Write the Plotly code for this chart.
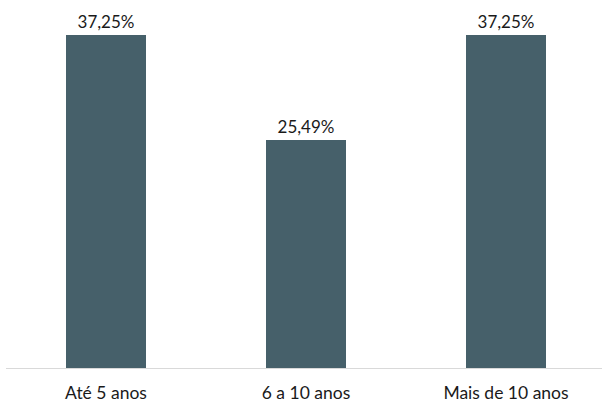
import plotly.graph_objects as go

# Distribuição por tempo de atuação
categorias = ["Até 5 anos", "6 a 10 anos", "Mais de 10 anos"]
percentuais = [37.25, 25.49, 37.25]
rotulos = ["37,25%", "25,49%", "37,25%"]

cor_barra = "#46606a"
fonte = "Lato, Liberation Sans, Arial, sans-serif"

fig = go.Figure(
    go.Bar(
        x=categorias,
        y=percentuais,
        text=rotulos,
        textposition="outside",
        cliponaxis=False,
        marker=dict(color=cor_barra, line=dict(width=0)),
        width=0.4,
        textfont=dict(family=fonte, size=17, color="#1a1a1a"),
    )
)

fig.update_layout(
    width=602,
    height=405,
    margin=dict(l=6, r=0, t=0, b=37),
    paper_bgcolor="white",
    plot_bgcolor="white",
    showlegend=False,
    font=dict(family=fonte, size=17, color="#1a1a1a"),
)

fig.update_xaxes(
    range=[-0.5, -0.5 + 596 / 200],
    showline=True,
    linecolor="#d9d9d9",
    linewidth=1,
    showgrid=False,
    ticks="",
    ticklabelstandoff=9,
    tickfont=dict(family=fonte, size=17.5, color="#1a1a1a"),
)
fig.update_yaxes(
    range=[0, 41.16],
    visible=False,
    showgrid=False,
    zeroline=False,
)

fig.write_html("out.html")
